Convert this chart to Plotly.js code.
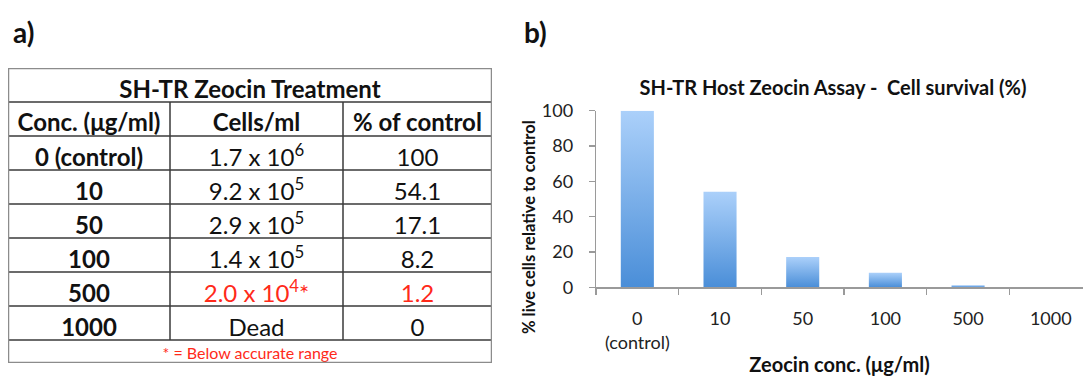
<!DOCTYPE html>
<html><head><meta charset="utf-8">
<script src="https://cdn.plot.ly/plotly-3.0.1.min.js"></script>
<style>html,body{margin:0;padding:0;background:#fff}#chart{width:1083px;height:376px}</style>
</head><body><div id="chart"></div>
<script>
// ---- data ----
const tableTitle = "SH-TR Zeocin Treatment";
const columnHeaders = ["Conc. (μg/ml)", "Cells/ml", "% of control"];
const concLabels = ["0 (control)", "10", "50", "100", "500", "1000"];
const cellMantissa = ["1.7", "9.2", "2.9", "1.4", "2.0", null];
const cellExponent = [6, 5, 5, 5, 4, null];
const percentOfControl = [100, 54.1, 17.1, 8.2, 1.2, 0];
const belowRange = [false, false, false, false, true, false];
const footnote = "* = Below accurate range";
const chartTitle = "SH-TR Host Zeocin Assay -\u00a0 Cell survival (%)";
const xTitle = "Zeocin conc. (μg/ml)";
const yTitle = "% live cells relative to control";

// ---- layout helpers (px -> paper) ----
const W = 1083, H = 376;
const fx = x => x / W;
const fy = y => 1 - y / H;
const FONT = 'Lato, "Open Sans", sans-serif';
const RED = '#ff2a1a';
const INK = '#111';

// ---- table drawn on its own (hidden) axes x2/y2, units = table pixels ----
const colW = [162, 173, 149];
const tableW = colW.reduce((a, b) => a + b, 0);
const colEdge = colW.reduce((acc, w) => (acc.push(acc[acc.length - 1] + w), acc), [0]);
const colMid = colW.map((w, i) => colEdge[i] + w / 2);
const rowH = 34, footH = 23;
const nRows = 2 + concLabels.length;           // title + header + data rows
const tableH = nRows * rowH + footH;
const rowMid = (r, off) => r * rowH + rowH / 2 + off;   // visual centre of text in row r

const tx = [], ty = [], tt = [], tc = [], ts = [];
const put = (x, y, text, color, size) => { tx.push(x); ty.push(y); tt.push(text); tc.push(color); ts.push(size); };
put(tableW / 2, rowMid(0, 7), `<b>${tableTitle}</b>`, INK, 24);
columnHeaders.forEach((h, c) => put(colMid[c], rowMid(1, 6), `<b>${h}</b>`, INK, 24));
concLabels.forEach((conc, i) => {
  const r = i + 2;
  const col = belowRange[i] ? RED : INK;
  put(colMid[0], rowMid(r, 7), `<b>${conc}</b>`, INK, 24);
  put(colMid[1], rowMid(r, 7),
      cellMantissa[i] === null ? 'Dead' : `${cellMantissa[i]} x 10<sup>${cellExponent[i]}</sup>${belowRange[i] ? '*' : ''}`,
      col, 24);
  put(colMid[2], rowMid(r, 7), String(percentOfControl[i]), col, 24);
});
put(tableW / 2, nRows * rowH + footH / 2 + 3, footnote, RED, 16);

const tableText = {
  type: 'scatter', mode: 'text', x: tx, y: ty, text: tt, xaxis: 'x2', yaxis: 'y2',
  textposition: 'middle center', cliponaxis: false, hoverinfo: 'none',
  textfont: {family: FONT, size: ts, color: tc}
};

const gridShapes = [];
for (let r = 1; r <= nRows; r++) {
  gridShapes.push({type: 'line', xref: 'x2', yref: 'y2', x0: 0, x1: tableW, y0: r * rowH, y1: r * rowH,
    line: {color: '#3a3a3a', width: 1.5}});
}
colEdge.slice(1, -1).forEach(e => gridShapes.push({type: 'line', xref: 'x2', yref: 'y2',
  x0: e, x1: e, y0: rowH, y1: nRows * rowH, line: {color: '#3a3a3a', width: 1.5}}));
gridShapes.push({type: 'rect', xref: 'x2', yref: 'y2', x0: 0, x1: tableW, y0: 0, y1: tableH,
  line: {color: '#8c8c8c', width: 2.5}, fillcolor: 'rgba(0,0,0,0)'});

// ---- bar chart ----
const chartCats = concLabels.map(c => c.replace(' (', '<br>('));
const bars = {
  type: 'bar', x: chartCats, y: percentOfControl, xaxis: 'x', yaxis: 'y',
  marker: {color: '#6fa6e6', line: {width: 0}}, hoverinfo: 'none'
};

const layout = {
  width: W, height: H, margin: {l: 0, r: 0, t: 0, b: 0},
  paper_bgcolor: '#fff', plot_bgcolor: 'rgba(0,0,0,0)', showlegend: false,
  bargap: 0.6,
  title: {text: `<b>${chartTitle}</b>`, x: fx(833), y: fy(88), xref: 'paper', yref: 'paper',
    xanchor: 'center', yanchor: 'middle', font: {family: FONT, size: 20, color: INK}},
  xaxis: {domain: [fx(596), 1], type: 'category', range: [-0.5, 5.39],
    tickson: 'boundaries', ticks: 'outside', ticklen: 6, tickcolor: '#9a9a9a', tickwidth: 1.3,
    showline: true, linecolor: '#9a9a9a', linewidth: 1.3, showgrid: false, zeroline: false,
    tickfont: {family: FONT, size: 18, color: '#222'}, ticklabelstandoff: 15,
    title: {text: `<b>${xTitle}</b>`, font: {family: FONT, size: 20, color: INK}, standoff: 8}},
  yaxis: {domain: [fy(287.3), fy(110.7)], range: [0, 100], dtick: 20,
    ticks: 'outside', ticklen: 6, tickcolor: '#9a9a9a', tickwidth: 1.3,
    showline: true, linecolor: '#9a9a9a', linewidth: 1.3, showgrid: false, zeroline: false,
    tickfont: {family: FONT, size: 18, color: '#222'}, ticklabelstandoff: 12},
  xaxis2: {domain: [fx(8), fx(8 + tableW)], range: [0, tableW], anchor: 'y2', visible: false, fixedrange: true},
  yaxis2: {domain: [fy(68 + tableH), fy(68)], range: [tableH, 0], anchor: 'x2', visible: false, fixedrange: true},
  annotations: [
    {text: '<b>a)</b>', xref: 'paper', yref: 'paper', x: fx(23), y: fy(32), showarrow: false,
      xanchor: 'center', yanchor: 'middle', font: {family: FONT, size: 28, color: INK}},
    {text: '<b>b)</b>', xref: 'paper', yref: 'paper', x: fx(535), y: fy(32), showarrow: false,
      xanchor: 'center', yanchor: 'middle', font: {family: FONT, size: 28, color: INK}},
    {text: `<b>${yTitle}</b>`, xref: 'paper', yref: 'paper', x: fx(529), y: fy(227), showarrow: false,
      textangle: -90, xanchor: 'center', yanchor: 'middle', font: {family: FONT, size: 16.5, color: INK}}
  ],
  shapes: gridShapes
};

Plotly.newPlot('chart', [tableText, bars], layout, {staticPlot: true, displayModeBar: false})
.then(gd => {
  const svg = gd.querySelector('.main-svg');
  const ns = 'http://www.w3.org/2000/svg';
  let defs = svg.querySelector('defs');
  if (!defs) { defs = document.createElementNS(ns, 'defs'); svg.insertBefore(defs, svg.firstChild); }
  const grad = document.createElementNS(ns, 'linearGradient');
  grad.setAttribute('id', 'barGrad');
  grad.setAttribute('x1', '0'); grad.setAttribute('y1', '0');
  grad.setAttribute('x2', '0'); grad.setAttribute('y2', '1');
  [['0', '#abd0fa'], ['1', '#4a8ed8']].forEach(([o, c]) => {
    const s = document.createElementNS(ns, 'stop');
    s.setAttribute('offset', o); s.setAttribute('stop-color', c);
    grad.appendChild(s);
  });
  defs.appendChild(grad);
  gd.querySelectorAll('.barlayer .point path').forEach(p => { p.style.fill = 'url(#barGrad)'; });
});
</script>
</body></html>
